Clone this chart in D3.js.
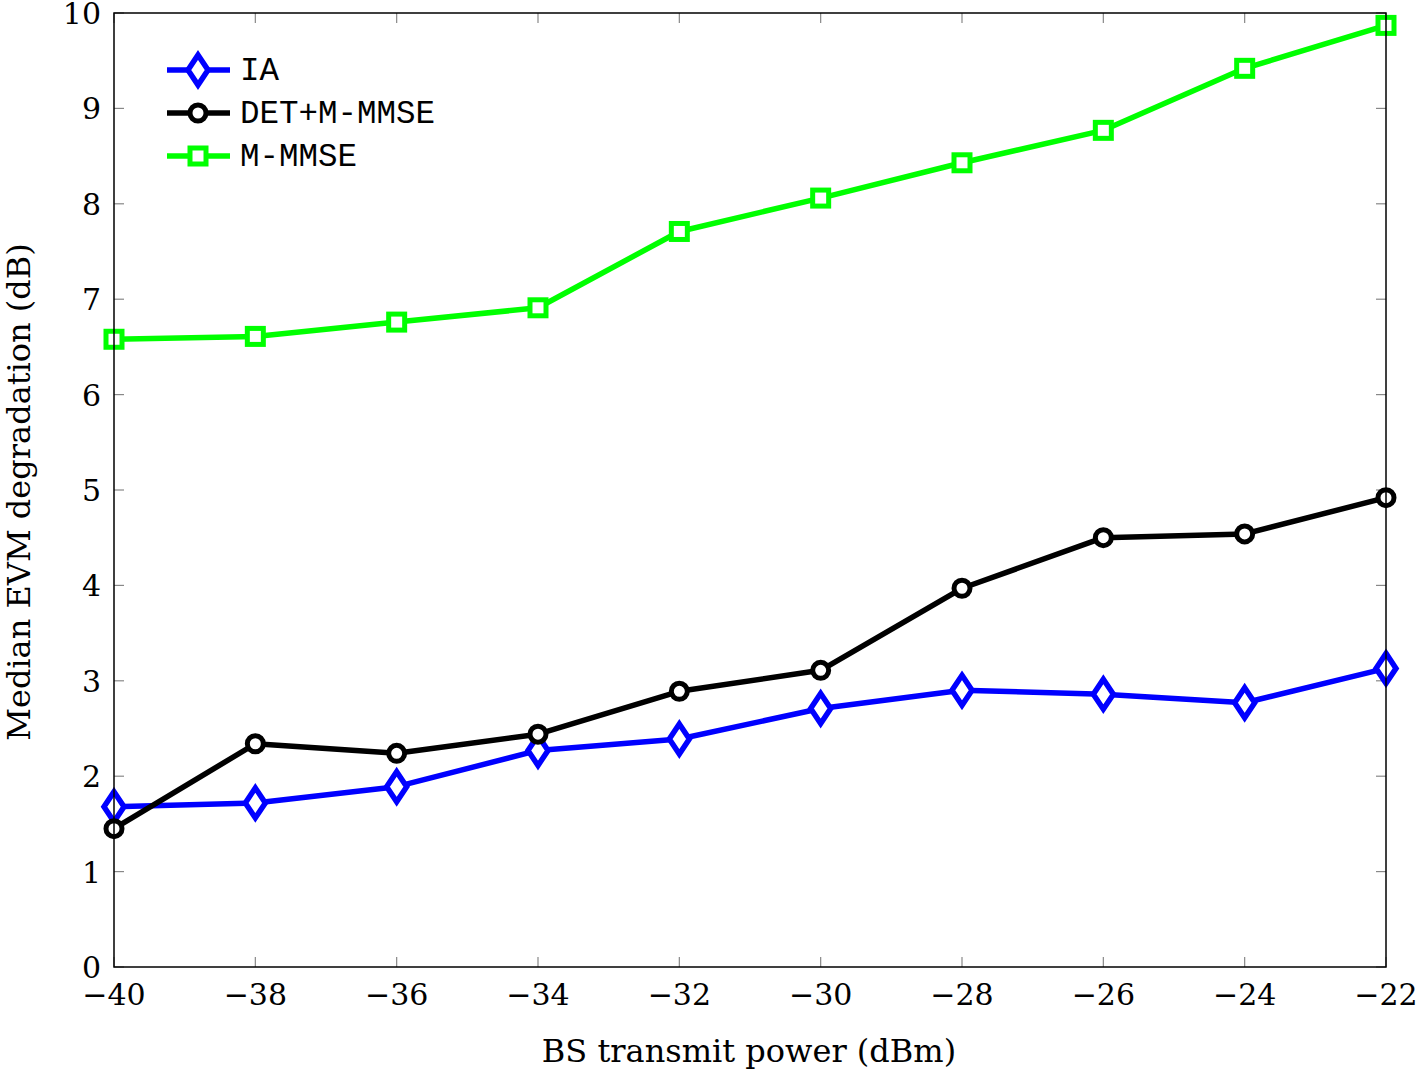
<!DOCTYPE html>
<html>
<head>
<meta charset="utf-8">
<script src="https://cdn.jsdelivr.net/npm/d3@7"></script>
<style>
body { margin: 0; background: #fff; }
text { font-family: "DejaVu Serif", "Liberation Serif", serif; }
</style>
</head>
<body>
<div id="chart"></div>
<script>
// values
var powers = [-40, -38, -36, -34, -32, -30, -28, -26, -24, -22];
var ia = [1.68, 1.72, 1.89, 2.27, 2.39, 2.71, 2.90, 2.86, 2.77, 3.13];
var detMmmse = [1.45, 2.34, 2.24, 2.44, 2.89, 3.11, 3.97, 4.50, 4.54, 4.92];
var mMmse = [6.58, 6.61, 6.76, 6.91, 7.71, 8.06, 8.43, 8.77, 9.42, 9.87];
var xTicks = [-40, -38, -36, -34, -32, -30, -28, -26, -24, -22];
var yTicks = [0, 1, 2, 3, 4, 5, 6, 7, 8, 9, 10];

var series = [
    {name: "IA", values: ia, color: "#0000ff", mark: "diamond"},
    {name: "DET+M-MMSE", values: detMmmse, color: "#000000", mark: "circle"},
    {name: "M-MMSE", values: mMmse, color: "#00ff00", mark: "square"}
];

var width = 1418, height = 1071;
var pLeft = 114, pRight = 1386, pTop = 13, pBottom = 967;

var svg = d3.select("#chart").append("svg")
    .attr("width", width)
    .attr("height", height);

var x = d3.scaleLinear().domain([-40, -22]).range([pLeft, pRight]);
var y = d3.scaleLinear().domain([0, 10]).range([pBottom, pTop]);

// ticks, inward, on all four sides
var tickLen = 10;
var ticks = svg.append("g").attr("stroke", "#888").attr("stroke-width", 1.2);
xTicks.forEach(function(v) {
    ticks.append("line").attr("x1", x(v)).attr("x2", x(v)).attr("y1", pBottom).attr("y2", pBottom - tickLen);
    ticks.append("line").attr("x1", x(v)).attr("x2", x(v)).attr("y1", pTop).attr("y2", pTop + tickLen);
});
yTicks.forEach(function(v) {
    ticks.append("line").attr("x1", pLeft).attr("x2", pLeft + tickLen).attr("y1", y(v)).attr("y2", y(v));
    ticks.append("line").attr("x1", pRight).attr("x2", pRight - tickLen).attr("y1", y(v)).attr("y2", y(v));
});

// tick labels
svg.append("g").selectAll("text").data(xTicks).enter().append("text")
    .attr("x", function(d) { return x(d); })
    .attr("y", pBottom + 38)
    .attr("text-anchor", "middle")
    .attr("font-size", 30)
    .text(function(d) { return d < 0 ? "\u2212" + Math.abs(d) : d; });

svg.append("g").selectAll("text").data(yTicks).enter().append("text")
    .attr("x", pLeft - 13)
    .attr("y", function(d) { return y(d) + 11; })
    .attr("text-anchor", "end")
    .attr("font-size", 30)
    .text(function(d) { return d; });

// axis titles
svg.append("text")
    .attr("x", 749)
    .attr("y", 1062)
    .attr("text-anchor", "middle")
    .attr("font-size", 32)
    .text("BS transmit power (dBm)");

svg.append("text")
    .attr("transform", "translate(30," + ((pTop + pBottom) / 2 + 2) + ") rotate(-90)")
    .attr("text-anchor", "middle")
    .attr("font-size", 32)
    .text("Median EVM degradation (dB)");

// markers
function drawMark(g, type, cx, cy, color) {
    if (type === "diamond") {
        g.append("path")
            .attr("d", "M" + cx + "," + (cy - 15) + "L" + (cx + 10) + "," + cy + "L" + cx + "," + (cy + 15) + "L" + (cx - 10) + "," + cy + "Z")
            .attr("fill", "#fff").attr("stroke", color).attr("stroke-width", 5.5);
    } else if (type === "circle") {
        g.append("circle").attr("cx", cx).attr("cy", cy).attr("r", 8)
            .attr("fill", "#fff").attr("stroke", color).attr("stroke-width", 5);
    } else {
        g.append("rect").attr("x", cx - 8).attr("y", cy - 8).attr("width", 16).attr("height", 16)
            .attr("fill", "#fff").attr("stroke", color).attr("stroke-width", 5);
    }
}

var line = d3.line()
    .x(function(d, i) { return x(powers[i]); })
    .y(function(d) { return y(d); });

series.forEach(function(s) {
    var g = svg.append("g");
    g.append("path")
        .attr("d", line(s.values))
        .attr("fill", "none")
        .attr("stroke", s.color)
        .attr("stroke-width", 5.5)
        .attr("stroke-linejoin", "round");
    s.values.forEach(function(v, i) {
        drawMark(g, s.mark, x(powers[i]), y(v), s.color);
    });
});

// frame
svg.append("rect")
    .attr("x", pLeft).attr("y", pTop)
    .attr("width", pRight - pLeft).attr("height", pBottom - pTop)
    .attr("fill", "none").attr("stroke", "#000").attr("stroke-width", 1.5);

// legend
var legend = svg.append("g");
series.forEach(function(s, i) {
    var ly = 70 + i * 43;
    legend.append("line")
        .attr("x1", 167).attr("x2", 230).attr("y1", ly).attr("y2", ly)
        .attr("stroke", s.color).attr("stroke-width", 5.5);
    drawMark(legend, s.mark, 198, ly, s.color);
    legend.append("text")
        .attr("x", 240).attr("y", ly + 10)
        .attr("font-size", 32.5)
        .style("font-family", "'Liberation Mono', 'DejaVu Sans Mono', monospace")
        .text(s.name);
});
</script>
</body>
</html>
